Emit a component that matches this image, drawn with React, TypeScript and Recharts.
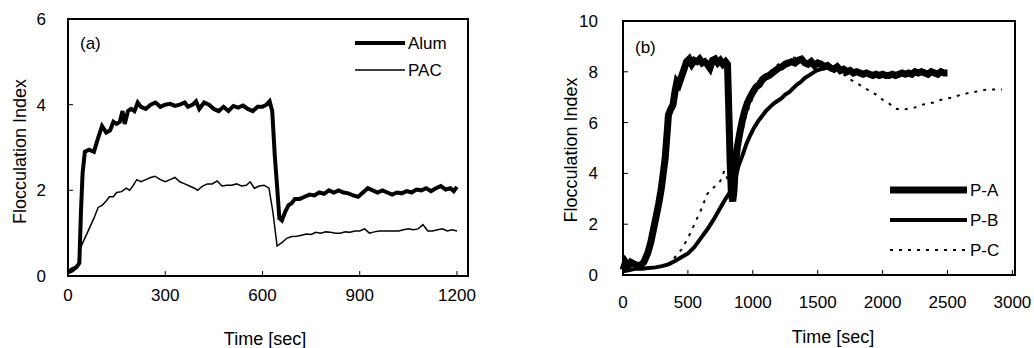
import { LineChart, Line, XAxis, YAxis, ReferenceArea, Legend } from "recharts";

// (a) alum vs PAC
const alumTime = [0, 10, 25, 35, 40, 45, 52, 65, 80, 92, 105, 118, 130, 140, 150, 160, 168, 175, 185, 195, 205, 215, 225, 240, 255, 270, 285, 300, 315, 330, 345, 360, 370, 385, 395, 405, 420, 435, 450, 465, 480, 495, 510, 525, 540, 555, 570, 585, 600, 612, 622, 630, 638, 645, 652, 660, 670, 680, 690, 700, 715, 730, 745, 760, 775, 790, 805, 820, 835, 850, 865, 880, 895, 910, 925, 940, 955, 970, 985, 1000, 1015, 1030, 1045, 1060, 1075, 1090, 1105, 1120, 1135, 1150, 1165, 1180, 1190, 1200];
const alumIndex = [0.08, 0.15, 0.2, 0.3, 1.5, 2.4, 2.9, 2.95, 2.9, 3.2, 3.5, 3.35, 3.4, 3.6, 3.55, 3.6, 3.85, 3.55, 3.85, 3.9, 3.85, 4.05, 3.95, 3.9, 4.0, 4.05, 3.95, 4.0, 4.02, 3.97, 4.0, 4.05, 3.95, 4.0, 4.08, 3.9, 4.05, 4.0, 3.9, 3.85, 3.95, 3.85, 3.97, 3.93, 3.98, 3.9, 3.85, 3.95, 3.95, 4.0, 4.08, 3.85, 2.8, 2.1, 1.35, 1.3, 1.5, 1.65, 1.7, 1.8, 1.8, 1.85, 1.9, 1.88, 1.95, 1.92, 2.0, 1.95, 2.0, 1.95, 1.93, 1.88, 1.85, 1.95, 2.05, 2.0, 1.95, 2.0, 1.95, 1.9, 1.95, 1.93, 1.98, 1.95, 2.02, 2.0, 2.05, 1.98, 2.05, 2.1, 2.02, 2.05, 1.98, 2.08];

const pacTime = [0, 15, 30, 38, 50, 65, 80, 93, 105, 118, 128, 140, 150, 165, 180, 190, 200, 212, 225, 240, 255, 268, 285, 300, 315, 330, 345, 360, 375, 390, 400, 415, 430, 445, 460, 475, 490, 505, 520, 535, 550, 562, 575, 590, 605, 620, 632, 645, 660, 675, 690, 705, 720, 735, 750, 765, 780, 795, 810, 825, 840, 855, 870, 885, 900, 915, 930, 945, 960, 975, 990, 1005, 1020, 1035, 1050, 1065, 1080, 1095, 1110, 1125, 1140, 1155, 1170, 1185, 1200];
const pacIndex = [0.05, 0.1, 0.2, 0.65, 0.85, 1.1, 1.35, 1.6, 1.65, 1.75, 1.85, 1.85, 1.95, 1.97, 2.05, 2.0, 2.1, 2.25, 2.2, 2.25, 2.3, 2.33, 2.25, 2.2, 2.25, 2.3, 2.2, 2.15, 2.1, 2.05, 2.0, 2.1, 2.15, 2.15, 2.22, 2.1, 2.12, 2.12, 2.15, 2.1, 2.12, 2.2, 2.05, 2.1, 2.12, 2.05, 1.5, 0.7, 0.78, 0.88, 0.92, 0.93, 0.95, 0.98, 0.97, 1.02, 1.0, 1.03, 1.02, 1.0, 1.0, 1.03, 1.02, 1.05, 1.05, 1.1, 1.0, 1.03, 1.05, 1.05, 1.05, 1.05, 1.05, 1.08, 1.1, 1.08, 1.1, 1.2, 1.05, 1.05, 1.08, 1.1, 1.05, 1.08, 1.05];

// (b) P-A, P-B, P-C
const paTime = [0, 20, 40, 60, 80, 100, 130, 160, 190, 215, 235, 255, 275, 295, 310, 325, 340, 350, 365, 385, 400, 415, 430, 450, 470, 490, 510, 530, 550, 570, 590, 610, 630, 650, 670, 690, 710, 730, 750, 770, 790, 805, 815, 825, 835, 845, 855, 865, 880, 900, 920, 940, 960, 980, 1000, 1025, 1050, 1075, 1100, 1125, 1150, 1175, 1200, 1225, 1250, 1275, 1300, 1325, 1350, 1375, 1400, 1425, 1450, 1475, 1500, 1525, 1550, 1575, 1600, 1625, 1650, 1675, 1700, 1725, 1750, 1775, 1800, 1825, 1850, 1875, 1900, 1925, 1950, 1975, 2000, 2025, 2050, 2075, 2100, 2125, 2150, 2175, 2200, 2225, 2250, 2275, 2300, 2325, 2350, 2375, 2400, 2425, 2450, 2475, 2500];
const paIndex = [0.2, 0.5, 0.35, 0.5, 0.45, 0.4, 0.35, 0.5, 0.85, 1.3, 1.8, 2.3, 2.8, 3.4, 4.0, 4.6, 5.6, 6.3, 6.5, 6.7, 7.2, 7.6, 7.5, 7.8, 8.1, 8.4, 8.5, 8.3, 8.45, 8.4, 8.5, 8.35, 8.4, 8.3, 8.15, 8.45, 8.5, 8.35, 8.45, 8.3, 8.4, 8.3, 6.5, 4.5, 3.2, 2.9, 3.3, 4.3, 5.0, 5.6, 6.1, 6.5, 6.8, 7.0, 7.2, 7.4, 7.5, 7.7, 7.8, 7.85, 7.95, 8.05, 8.15, 8.2, 8.3, 8.35, 8.4, 8.35, 8.45, 8.5, 8.35, 8.3, 8.4, 8.25, 8.35, 8.3, 8.2, 8.25, 8.15, 8.1, 8.2, 8.05, 8.1, 8.0, 8.05, 7.95, 8.0, 7.95, 7.9, 7.95, 7.9, 7.85, 7.9, 7.85, 7.9, 7.85, 7.85, 7.9, 7.85, 7.9, 7.95, 7.9, 7.95, 7.9, 8.0, 7.95, 8.0, 7.95, 7.9, 8.0, 7.95, 7.9, 8.0, 7.95, 7.95];

const pbTime = [0, 50, 100, 150, 200, 250, 300, 350, 400, 450, 500, 550, 600, 650, 700, 750, 790, 830, 860, 890, 920, 950, 980, 1010, 1040, 1070, 1100, 1130, 1160, 1190, 1220, 1250, 1280, 1310, 1340, 1370, 1400, 1430, 1460, 1490, 1520, 1550, 1600, 1650, 1700];
const pbIndex = [0.15, 0.2, 0.25, 0.25, 0.28, 0.3, 0.35, 0.42, 0.55, 0.7, 0.85, 1.1, 1.45, 1.8, 2.2, 2.65, 3.0, 3.3, 3.7, 4.3, 4.7, 5.15, 5.5, 5.8, 6.05, 6.25, 6.45, 6.6, 6.75, 6.85, 6.95, 7.1, 7.2, 7.35, 7.5, 7.6, 7.75, 7.85, 7.95, 8.05, 8.1, 8.15, 8.15, 8.15, 8.1];

const pcTime = [0, 50, 100, 150, 200, 250, 300, 350, 400, 450, 500, 550, 600, 650, 700, 750, 780, 820, 850, 870, 900, 950, 1000, 1050, 1100, 1150, 1200, 1250, 1300, 1350, 1400, 1450, 1500, 1550, 1600, 1650, 1700, 1750, 1800, 1850, 1900, 1950, 2000, 2050, 2100, 2150, 2200, 2250, 2300, 2350, 2400, 2450, 2500, 2550, 2600, 2650, 2700, 2750, 2800, 2850, 2920];
const pcIndex = [0.15, 0.2, 0.25, 0.25, 0.28, 0.3, 0.35, 0.45, 0.7, 1.0, 1.45, 2.0, 2.55, 3.2, 3.45, 3.7, 4.1, 3.6, 3.3, 4.3, 5.3, 6.3, 7.0, 7.5, 7.8, 8.1, 8.3, 8.4, 8.55, 8.55, 8.5, 8.45, 8.4, 8.3, 8.2, 8.1, 7.9, 7.7, 7.55, 7.4, 7.25, 7.1, 6.9, 6.75, 6.55, 6.5, 6.55, 6.6, 6.7, 6.75, 6.8, 6.9, 6.95, 7.0, 7.1, 7.15, 7.2, 7.25, 7.3, 7.3, 7.3];

const ticksA = [0, 300, 600, 900, 1200];
const ticksAY = [0, 2, 4, 6];
const ticksB = [0, 500, 1000, 1500, 2000, 2500, 3000];
const ticksBY = [0, 2, 4, 6, 8, 10];

const pts = (t: number[], v: number[]) => t.map((x, i) => ({ t: x, v: v[i] }));

type Style = { width: number; dash?: string };
const styleA: Record<string, Style> = { Alum: { width: 4 }, PAC: { width: 1.5 } };
const styleB: Record<string, Style> = {
  "P-A": { width: 7 },
  "P-B": { width: 4 },
  "P-C": { width: 2, dash: "3 6" },
};

function LegendBox({ payload, styles, lineLen, gap }: any) {
  const items = payload || [];
  return (
    <svg width={lineLen + 60} height={items.length * gap + 4} style={{ display: "block" }}>
      {items.map((p: any, i: number) => {
        const s: Style = styles[p.value];
        const y = i * gap + 12;
        return (
          <g key={p.value}>
            <line x1={2} x2={2 + lineLen} y1={y} y2={y} stroke="#000" strokeWidth={s.width} strokeDasharray={s.dash} />
            <text x={lineLen + 5} y={y + 6} fontSize={17} fill="#000">
              {p.value}
            </text>
          </g>
        );
      })}
    </svg>
  );
}

const tickStyle = { fill: "#000", fontSize: 17 };

export default function App() {
  return (
    <div
      style={{
        position: "fixed",
        left: 0,
        top: 0,
        width: 1034,
        height: 348,
        background: "#fff",
        fontFamily: "'Liberation Sans', Arial, sans-serif",
      }}
    >
      <div style={{ position: "absolute", left: 0, top: 0 }}>
        <LineChart width={500} height={348} margin={{ top: 19, right: 32, bottom: 0, left: 8 }}>
          <XAxis
            type="number"
            dataKey="t"
            domain={[0, 1234]}
            ticks={ticksA}
            axisLine={false}
            tickSize={-5}
            tickMargin={18}
            tick={tickStyle}
            tickLine={{ stroke: "#000" }}
            height={72}
            label={{ value: "Time [sec]", position: "insideBottom", offset: 3, dx: -3, fill: "#000", fontSize: 18 }}
          />
          <YAxis
            type="number"
            domain={[0, 6]}
            ticks={ticksAY}
            axisLine={false}
            tickSize={-5}
            tickMargin={27}
            tick={tickStyle}
            tickLine={{ stroke: "#000" }}
            width={60}
            label={{ value: "Flocculation Index", angle: -90, position: "center", dx: -18, dy: 4, fill: "#000", fontSize: 18 }}
          />
          <ReferenceArea
            x1={0}
            x2={1234}
            y1={0}
            y2={6}
            fill="none"
            stroke="#000"
            strokeWidth={2}
            fillOpacity={0}
            label={{ value: "(a)", position: "insideTopLeft", offset: 12, dy: 6, fill: "#000", fontSize: 17 }}
          />
          <Line data={pts(alumTime, alumIndex)} dataKey="v" name="Alum" type="linear" stroke="#000" strokeWidth={4} dot={false} isAnimationActive={false} />
          <Line data={pts(pacTime, pacIndex)} dataKey="v" name="PAC" type="linear" stroke="#000" strokeWidth={1.5} dot={false} isAnimationActive={false} />
          <Legend
            layout="horizontal"
            align="center"
            verticalAlign="middle"
            content={(props: any) => <LegendBox payload={props.payload} styles={styleA} lineLen={50} gap={27} />}
            wrapperStyle={{ position: "absolute", left: 353, top: 31, width: "auto", height: "auto" }}
          />
        </LineChart>
      </div>

      <div style={{ position: "absolute", left: 520, top: 0 }}>
        <LineChart width={514} height={348} margin={{ top: 21, right: 19, bottom: 0, left: 8 }}>
          <XAxis
            type="number"
            dataKey="t"
            domain={[0, 3020]}
            ticks={ticksB}
            axisLine={false}
            tickSize={-5}
            tickMargin={26}
            tick={tickStyle}
            tickLine={{ stroke: "#000" }}
            height={73}
            label={{ value: "Time [sec]", position: "insideBottom", offset: 5, dx: 14, fill: "#000", fontSize: 18 }}
          />
          <YAxis
            type="number"
            domain={[0, 10]}
            ticks={ticksBY}
            axisLine={false}
            tickSize={-5}
            tickMargin={30}
            tick={tickStyle}
            tickLine={{ stroke: "#000" }}
            width={95}
            label={{ value: "Flocculation Index", angle: -90, position: "center", dx: -5, dy: 2, fill: "#000", fontSize: 18 }}
          />
          <ReferenceArea
            x1={0}
            x2={3020}
            y1={0}
            y2={10}
            fill="none"
            stroke="#000"
            strokeWidth={2}
            fillOpacity={0}
            label={{ value: "(b)", position: "insideTopLeft", offset: 12, dy: 8, fill: "#000", fontSize: 17 }}
          />
          <Line data={pts(paTime, paIndex)} dataKey="v" name="P-A" type="linear" stroke="#000" strokeWidth={7} dot={false} isAnimationActive={false} />
          <Line data={pts(pbTime, pbIndex)} dataKey="v" name="P-B" type="linear" stroke="#000" strokeWidth={4} dot={false} isAnimationActive={false} />
          <Line data={pts(pcTime, pcIndex)} dataKey="v" name="P-C" type="linear" stroke="#000" strokeWidth={2} strokeDasharray="3 6" dot={false} isAnimationActive={false} />
          <Legend
            layout="horizontal"
            align="center"
            verticalAlign="middle"
            content={(props: any) => <LegendBox payload={props.payload} styles={styleB} lineLen={77} gap={30} />}
            wrapperStyle={{ position: "absolute", left: 368, top: 178, width: "auto", height: "auto" }}
          />
        </LineChart>
      </div>
    </div>
  );
}
